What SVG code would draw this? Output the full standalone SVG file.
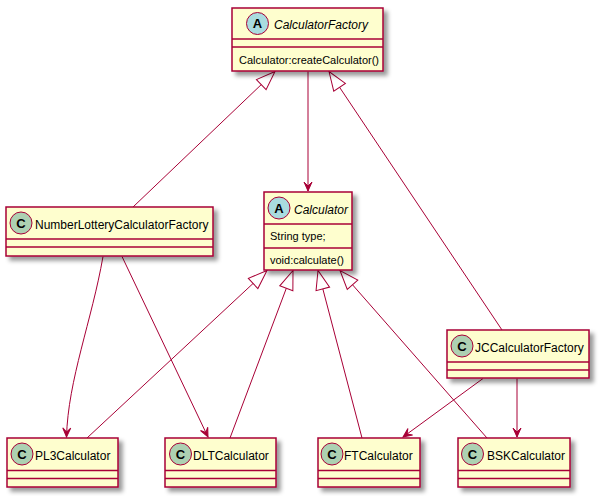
<svg xmlns="http://www.w3.org/2000/svg" width="599" height="496" viewBox="0 0 599 496">
<defs>
<filter id="sh" x="-1" y="-1" width="300%" height="300%">
<feGaussianBlur result="b1" stdDeviation="2"/>
<feColorMatrix in="b1" result="b2" type="matrix" values="0 0 0 0 0 0 0 0 0 0 0 0 0 0 0 0 0 0 .4 0"/>
<feOffset dx="4" dy="4" in="b2" result="b3"/>
<feBlend in="SourceGraphic" in2="b3" mode="normal"/>
</filter>
<marker id="ext" markerUnits="userSpaceOnUse" viewBox="-21 -9 23 18" markerWidth="23" markerHeight="18" refX="0" refY="0" orient="auto" overflow="visible">
<path d="M0,0 L-19,-7 L-19,7 Z" fill="#FFFFFF" stroke="#A80036" stroke-width="1"/>
</marker>
<marker id="arr" markerUnits="userSpaceOnUse" viewBox="-11 -6 13 12" markerWidth="13" markerHeight="12" refX="0" refY="0" orient="auto" overflow="visible">
<path d="M0,0 L-9,-4 L-5,0 L-9,4 Z" fill="#A80036" stroke="#A80036" stroke-width="1"/>
</marker>
</defs>
<style>
.box{fill:#FEFECE;stroke:#A80036;stroke-width:1.5;filter:url(#sh);}
.div{stroke:#A80036;stroke-width:1.5;}
.spotA{fill:#A9DCDF;stroke:#A80036;stroke-width:1;}
.spotC{fill:#ADD1B2;stroke:#A80036;stroke-width:1;}
.letter{font-family:"Liberation Sans",Arial,sans-serif;font-size:13px;font-weight:bold;fill:#000000;text-anchor:middle;}
.name{font-family:"Liberation Sans",Arial,sans-serif;font-size:12px;fill:#000000;}
.abs{font-style:italic;}
.mem{font-family:"Liberation Sans",Arial,sans-serif;font-size:11px;fill:#000000;}
.ln{fill:none;stroke:#A80036;stroke-width:1;}
.gen{marker-end:url(#ext);}
.dep{marker-end:url(#arr);}
</style>

<g id="connectors">
<path class="ln gen" d="M133,207 L275,71.5"/>
<path class="ln gen" d="M502,330 L329,71.5"/>
<path class="ln dep" d="M308,71.5 L308,191"/>
<path class="ln gen" d="M87,438 L267,270.5"/>
<path class="ln gen" d="M230,438 L293,270.5"/>
<path class="ln gen" d="M362,438 L318,270.5"/>
<path class="ln gen" d="M487,438 L340,270.5"/>
<path class="ln dep" d="M103,256.5 C92,320 68,380 66.5,437"/>
<path class="ln dep" d="M122,256.5 L208,437"/>
<path class="ln dep" d="M483,378.5 L403,437"/>
<path class="ln dep" d="M517,378.5 L517,437"/>
</g>

<g id="CalculatorFactory">
<rect class="box" x="232" y="8" width="151" height="63"/>
<circle class="spotA" cx="257.5" cy="23.5" r="11"/>
<text class="letter" x="257.5" y="28">A</text>
<text class="name abs" x="274" y="29">CalculatorFactory</text>
<line class="div" x1="232" y1="39" x2="383" y2="39"/>
<line class="div" x1="232" y1="47" x2="383" y2="47"/>
<text class="mem" x="239" y="64">Calculator:createCalculator()</text>
</g>

<g id="Calculator">
<rect class="box" x="264" y="192" width="88" height="78"/>
<circle class="spotA" cx="279" cy="208" r="11"/>
<text class="letter" x="279" y="212.5">A</text>
<text class="name abs" x="294" y="213.5">Calculator</text>
<line class="div" x1="264" y1="224" x2="352" y2="224"/>
<text class="mem" x="270" y="240">String type;</text>
<line class="div" x1="264" y1="248" x2="352" y2="248"/>
<text class="mem" x="270" y="264">void:calculate()</text>
</g>

<g id="NumberLotteryCalculatorFactory">
<rect class="box" x="6" y="207" width="207" height="49"/>
<circle class="spotC" cx="21" cy="223" r="11"/>
<text class="letter" x="21" y="227.5">C</text>
<text class="name" x="35" y="228.5">NumberLotteryCalculatorFactory</text>
<line class="div" x1="6" y1="239" x2="213" y2="239"/>
<line class="div" x1="6" y1="247" x2="213" y2="247"/>
</g>

<g id="JCCalculatorFactory">
<rect class="box" x="447" y="330" width="142" height="48"/>
<circle class="spotC" cx="462" cy="346" r="11"/>
<text class="letter" x="462" y="350.5">C</text>
<text class="name" x="475" y="351.5">JCCalculatorFactory</text>
<line class="div" x1="447" y1="362" x2="589" y2="362"/>
<line class="div" x1="447" y1="370" x2="589" y2="370"/>
</g>

<g id="PL3Calculator">
<rect class="box" x="7" y="438" width="111" height="49"/>
<circle class="spotC" cx="22" cy="454" r="11"/>
<text class="letter" x="22" y="458.5">C</text>
<text class="name" x="35" y="459.5">PL3Calculator</text>
<line class="div" x1="7" y1="470.5" x2="118" y2="470.5"/>
<line class="div" x1="7" y1="478.5" x2="118" y2="478.5"/>
</g>

<g id="DLTCalculator">
<rect class="box" x="165" y="438" width="111" height="49"/>
<circle class="spotC" cx="180.5" cy="454" r="11"/>
<text class="letter" x="180.5" y="458.5">C</text>
<text class="name" x="193" y="459.5">DLTCalculator</text>
<line class="div" x1="165" y1="470.5" x2="276" y2="470.5"/>
<line class="div" x1="165" y1="478.5" x2="276" y2="478.5"/>
</g>

<g id="FTCalculator">
<rect class="box" x="318" y="438" width="102" height="49"/>
<circle class="spotC" cx="332" cy="454" r="11"/>
<text class="letter" x="332" y="458.5">C</text>
<text class="name" x="344" y="459.5">FTCalculator</text>
<line class="div" x1="318" y1="470.5" x2="420" y2="470.5"/>
<line class="div" x1="318" y1="478.5" x2="420" y2="478.5"/>
</g>

<g id="BSKCalculator">
<rect class="box" x="458" y="438" width="112" height="49"/>
<circle class="spotC" cx="472.5" cy="454" r="11"/>
<text class="letter" x="472.5" y="458.5">C</text>
<text class="name" x="487" y="459.5">BSKCalculator</text>
<line class="div" x1="458" y1="470.5" x2="570" y2="470.5"/>
<line class="div" x1="458" y1="478.5" x2="570" y2="478.5"/>
</g>
</svg>
